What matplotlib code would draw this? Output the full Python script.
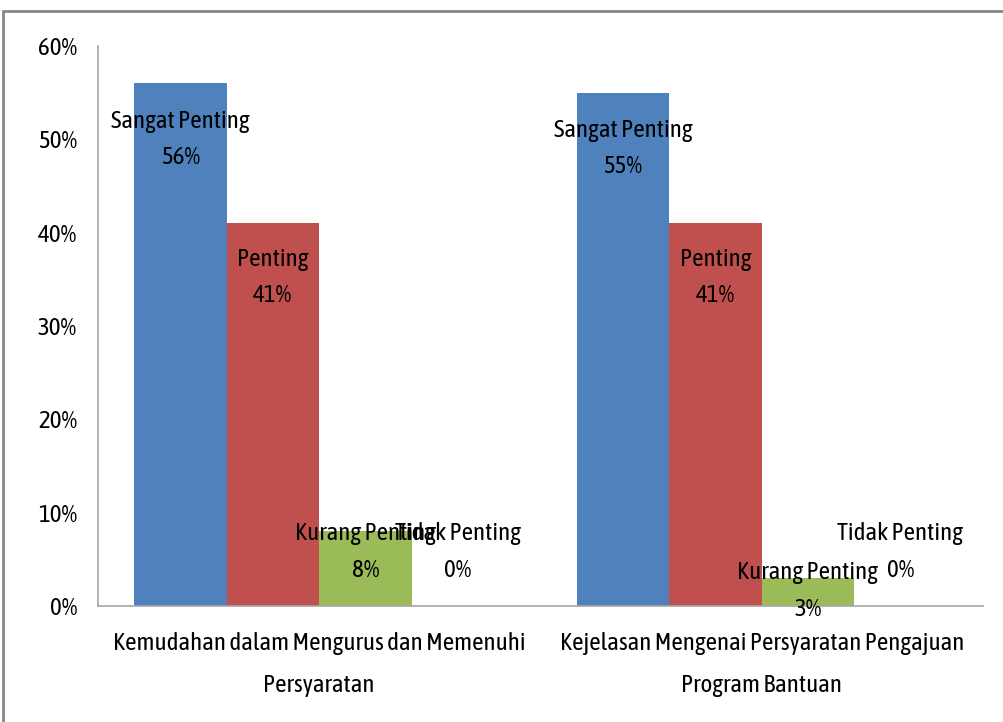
import numpy as np
import matplotlib
matplotlib.use("Agg")
import matplotlib.pyplot as plt
from matplotlib.patches import Rectangle

plt.rcParams['font.family'] = ['Asap Condensed', 'DejaVu Sans']

categories = ["Kemudahan dalam Mengurus dan Memenuhi\nPersyaratan",
              "Kejelasan Mengenai Persyaratan Pengajuan\nProgram Bantuan"]
series = ["Sangat Penting", "Penting", "Kurang Penting", "Tidak Penting"]
values = {
    "Sangat Penting": [56, 55],
    "Penting": [41, 41],
    "Kurang Penting": [8, 3],
    "Tidak Penting": [0, 0],
}
yticks = [0, 10, 20, 30, 40, 50, 60]

colors = ["#4F81BD", "#C0504D", "#9BBB59", "#8064A2"]
# where the label centre sits (percent units)
label_y = {
    "Sangat Penting": [50.0, 49.0],
    "Penting": [35.2, 35.2],
    "Kurang Penting": [5.8, 1.6],
    "Tidak Penting": [5.8, 5.8],
}

fig = plt.figure(figsize=(10.04, 7.22), dpi=100)
ax = fig.add_axes([98 / 1004, 1 - 606 / 722, (983 - 98) / 1004, (606 - 46) / 722])

x = np.arange(len(categories))
w = 0.209
for i, s in enumerate(series):
    xs = x + (i - 1.5) * w
    ax.bar(xs, values[s], width=w, color=colors[i], linewidth=0)
    for j in range(len(categories)):
        ax.text(xs[j], label_y[s][j], "%s\n%d%%" % (s, values[s][j]),
                ha="center", va="center", fontsize=18, linespacing=1.75,
                color="black")

ax.set_xlim(-0.5, 1.5)
ax.set_ylim(0, 60)
ax.set_yticks(yticks)
ax.set_yticklabels(["%d%%" % t for t in yticks], fontsize=18)
ax.set_xticks(x)
ax.set_xticklabels(categories, fontsize=18, linespacing=2.05)
ax.tick_params(length=0)
ax.tick_params(axis="y", pad=15)
ax.tick_params(axis="x", pad=19)
for side in ["top", "right"]:
    ax.spines[side].set_visible(False)
for side in ["left", "bottom"]:
    ax.spines[side].set_color("#A6A6A6")
    ax.spines[side].set_linewidth(1.2)

# outer chart border (right and bottom edges fall outside the picture)
fig.patches.append(Rectangle((3 / 1004, -0.05), 1.1, 1 - 11 / 722 + 0.05,
                             transform=fig.transFigure, fill=False,
                             edgecolor="#878787", linewidth=2))

fig.savefig("out.png", dpi=100)
